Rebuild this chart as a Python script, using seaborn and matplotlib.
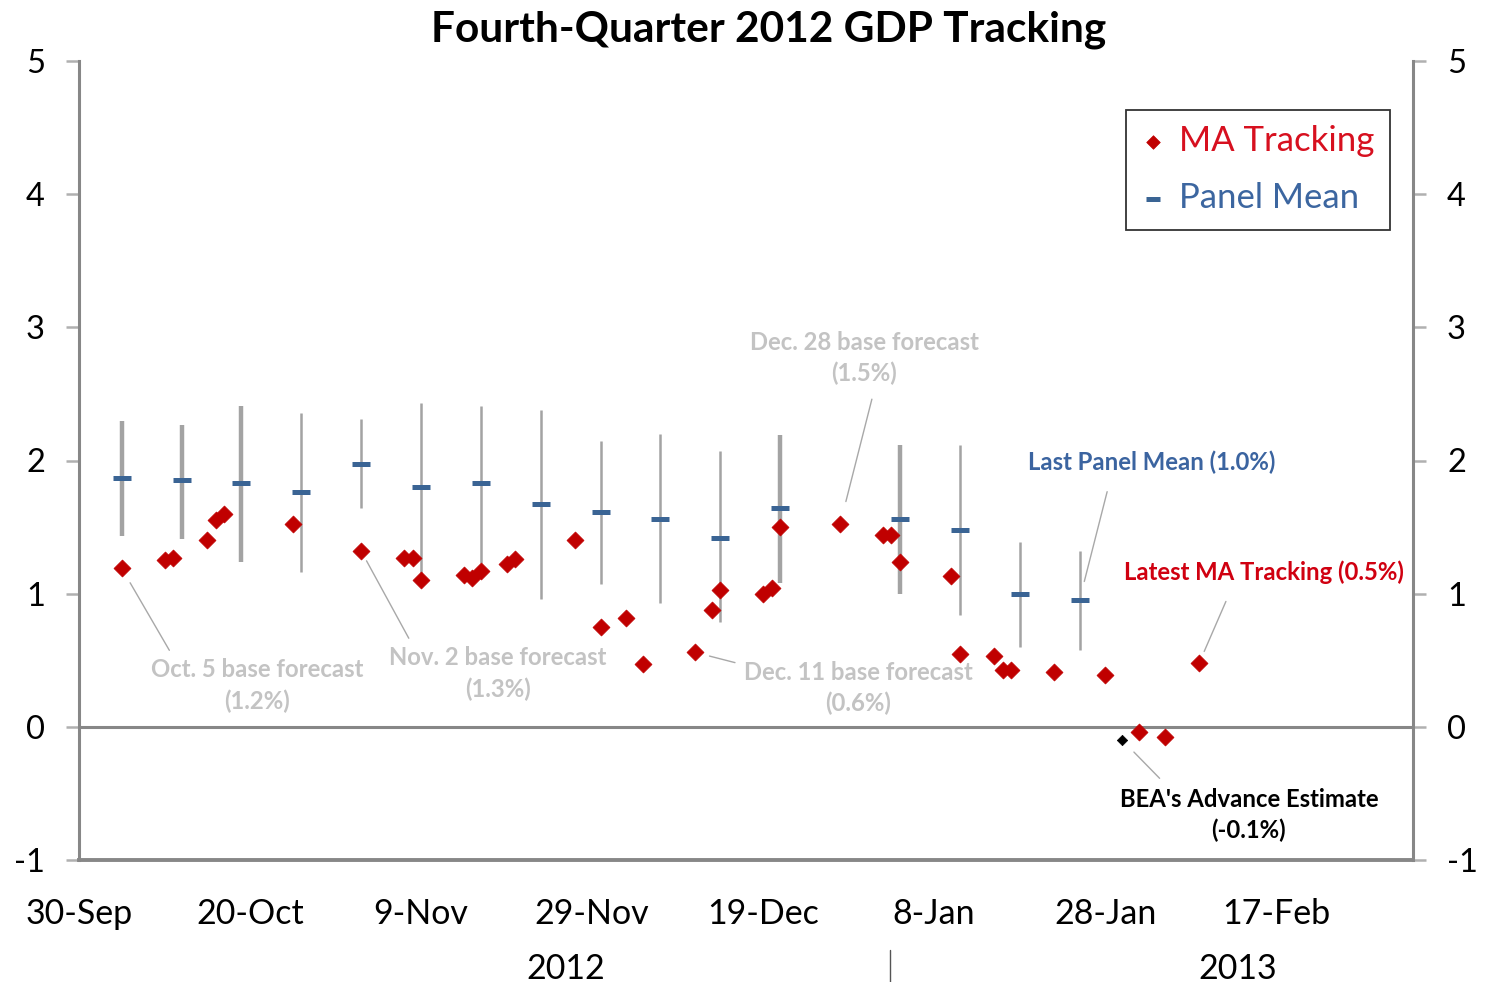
"""Fourth-Quarter 2012 GDP tracking chart."""

import matplotlib
matplotlib.use("Agg")  # Non-interactive backend

import matplotlib.pyplot as plt  # noqa: E402
import pandas as pd  # noqa: E402
import seaborn as sns  # noqa: E402

sns.set_style("white")
plt.rcParams["font.family"] = ["Lato", "DejaVu Sans"]
plt.rcParams["text.color"] = "black"

# Data
ma_dates = [
    "2012-10-05", "2012-10-10", "2012-10-11", "2012-10-15", "2012-10-16", "2012-10-17",
    "2012-10-25", "2012-11-02", "2012-11-07", "2012-11-08", "2012-11-09", "2012-11-14",
    "2012-11-15", "2012-11-16", "2012-11-19", "2012-11-20", "2012-11-27", "2012-11-30",
    "2012-12-03", "2012-12-05", "2012-12-11", "2012-12-13", "2012-12-14", "2012-12-19",
    "2012-12-20", "2012-12-21", "2012-12-28", "2013-01-02", "2013-01-03", "2013-01-04",
    "2013-01-10", "2013-01-11", "2013-01-15", "2013-01-16", "2013-01-17", "2013-01-22",
    "2013-01-28", "2013-02-01", "2013-02-04", "2013-02-08",
]
ma_values = [
    1.19, 1.25, 1.27, 1.40, 1.55, 1.60,
    1.52, 1.32, 1.27, 1.27, 1.10, 1.14,
    1.12, 1.17, 1.22, 1.26, 1.40, 0.75,
    0.82, 0.47, 0.56, 0.88, 1.03, 1.00,
    1.04, 1.50, 1.52, 1.44, 1.44, 1.24,
    1.13, 0.55, 0.53, 0.43, 0.43, 0.41,
    0.39, -0.04, -0.08, 0.48,
]

panel_dates = [
    "2012-10-05", "2012-10-12", "2012-10-19", "2012-10-26", "2012-11-02", "2012-11-09",
    "2012-11-16", "2012-11-23", "2012-11-30", "2012-12-07", "2012-12-14", "2012-12-21",
    "2013-01-04", "2013-01-11", "2013-01-18", "2013-01-25",
]
panel_mean = [1.87, 1.85, 1.83, 1.76, 1.97, 1.80, 1.83, 1.67, 1.61, 1.56, 1.42, 1.64,
              1.56, 1.48, 1.00, 0.95]
panel_low = [1.43, 1.41, 1.24, 1.16, 1.64, 1.10, 1.23, 0.96, 1.07, 0.93, 0.79, 1.08,
             1.00, 0.84, 0.60, 0.58]
panel_high = [2.30, 2.27, 2.41, 2.36, 2.31, 2.43, 2.41, 2.38, 2.15, 2.20, 2.07, 2.19,
              2.12, 2.12, 1.39, 1.32]

bea_date = "2013-01-30"
bea_value = -0.1

tick_dates = ["2012-09-30", "2012-10-20", "2012-11-09", "2012-11-29",
              "2012-12-19", "2013-01-08", "2013-01-28", "2013-02-17"]
tick_labels = ["30-Sep", "20-Oct", "9-Nov", "29-Nov", "19-Dec", "8-Jan", "28-Jan", "17-Feb"]

ma = pd.DataFrame({"date": pd.to_datetime(ma_dates), "value": ma_values})
panel = pd.DataFrame({"date": pd.to_datetime(panel_dates), "mean": panel_mean,
                      "low": panel_low, "high": panel_high})
# whiskers drawn heavier in the source image
whisker_lw = [3.2, 3.2, 3.2, 1.8, 1.8, 1.8, 1.8, 1.8, 1.8, 1.8, 1.8, 3.2, 3.2, 1.8, 1.8, 1.8]

RED = "#c00000"
BLUE = "#3a6494"
GRAY = "#878787"
WHISK = "#a3a3a3"
NOTE = "#c3c3c3"

fig = plt.figure(figsize=(14.85, 9.82), dpi=100)
ax = fig.add_axes([79 / 1485, 1 - 860 / 982, 1334 / 1485, 799 / 982])

ax.vlines(panel["date"], panel["low"], panel["high"], colors=WHISK, linewidths=whisker_lw, zorder=2)
sns.scatterplot(data=ma, x="date", y="value", marker="D", s=75, color=RED,
                edgecolor=RED, linewidth=0.5, label="MA Tracking", zorder=4, ax=ax)
sns.scatterplot(data=panel, x="date", y="mean", marker="_", s=170, color=BLUE,
                linewidth=3.6, label="Panel Mean", zorder=3, ax=ax)
sns.scatterplot(x=pd.to_datetime([bea_date]), y=[bea_value], marker="D", s=28, color="black",
                edgecolor="black", linewidth=0.5, zorder=5, ax=ax, legend=False)

ax.axhline(0, color=GRAY, lw=2.2, zorder=1)

ax.set_xlim(pd.Timestamp("2012-09-30"), pd.Timestamp("2013-03-05"))
ax.set_ylim(-1, 5)
ax.set_xticks(pd.to_datetime(tick_dates))
ax.set_xticklabels(tick_labels)
ax.set_yticks(range(-1, 6))
ax.set_yticklabels([str(v) for v in range(-1, 6)])
ax.set_xlabel("")
ax.set_ylabel("")

for side in ["left", "right", "bottom"]:
    ax.spines[side].set_color(GRAY)
    ax.spines[side].set_linewidth(2.2)
ax.spines["bottom"].set_linewidth(2.8)
ax.spines["top"].set_visible(False)

ax.tick_params(axis="y", which="both", left=True, right=True, labelleft=True, labelright=True,
               direction="out", length=9.5, width=1.8, color="#b0b0b0", labelcolor="black",
               labelsize=23.5, pad=15)
ax.tick_params(axis="x", direction="out", length=9, width=1, color="#b0b0b0",
               labelcolor="black", labelsize=24.5, pad=18)

# Legend
leg = ax.legend(loc="upper right", bbox_to_anchor=(0.983, 0.939), borderaxespad=0,
                fontsize=25, markerscale=0.8, handletextpad=0.4, handlelength=0.7,
                labelspacing=0.72, borderpad=0.45, fancybox=False, frameon=True)
leg.get_frame().set_edgecolor("black")
leg.get_frame().set_linewidth(1.3)
leg.get_texts()[0].set_color("#d7101f")
leg.get_texts()[1].set_color("#3c66a0")


def day(d, offset=0.0):
    return pd.Timestamp(d) + pd.Timedelta(days=offset)


notes = [
    # text, point, text center, color, relpos, shrinkA, shrinkB
    ("Oct. 5 base forecast\n(1.2%)", (day("2012-10-05"), 1.19), (day("2012-10-20", 0.8), 0.31),
     NOTE, (0.11, 1.0), 4, 12),
    ("Nov. 2 base forecast\n(1.3%)", (day("2012-11-02"), 1.32), (day("2012-11-18"), 0.40),
     NOTE, (0.11, 1.0), 4, 8),
    ("Dec. 11 base forecast\n(0.6%)", (day("2012-12-11"), 0.56), (day("2012-12-30", 0.1), 0.29),
     NOTE, (0.0, 0.93), 4, 11),
    ("Dec. 28 base forecast\n(1.5%)", (day("2012-12-28"), 1.52), (day("2012-12-30", 0.8), 2.77),
     NOTE, (0.55, 0.0), 8, 17),
    ("Last Panel Mean (1.0%)", (day("2013-01-25"), 0.95), (day("2013-02-02", 0.4), 1.99),
     "#3b64a0", (0.34, 0.0), 11, 14),
    ("Latest MA Tracking (0.5%)", (day("2013-02-08"), 0.48), (day("2013-02-15", 0.6), 1.16),
     "#d00010", (0.39, 0.0), 11, 9),
    ("BEA's Advance Estimate\n(-0.1%)", (day(bea_date), bea_value), (day("2013-02-13", 0.8), -0.66),
     "black", (0.19, 1.0), 6, 12),
]
for text, xy, xytext, color, relpos, sa, sb in notes:
    ax.annotate(text, xy=xy, xytext=xytext, ha="center", va="center", fontsize=17.2,
                fontweight="bold", color=color, linespacing=1.4,
                arrowprops=dict(arrowstyle="-", color="#a8a8a8", lw=1.0, relpos=relpos,
                                shrinkA=sa, shrinkB=sb), zorder=6)

# Year labels under the date axis
ax.text((566 - 79) / 1334, -0.136, "2012", transform=ax.transAxes, ha="center", va="center",
        fontsize=24.5)
ax.text((1238 - 79) / 1334, -0.136, "2013", transform=ax.transAxes, ha="center", va="center",
        fontsize=24.5)
ax.plot([(890 - 79) / 1334] * 2, [-0.113, -0.153], transform=ax.transAxes, color="#555555",
        lw=1, clip_on=False)

fig.text(769 / 1485, 1 - 30 / 982, "Fourth-Quarter 2012 GDP Tracking", ha="center", va="center",
         fontsize=30.5, fontweight="bold", color="black")

plt.savefig("out.png", dpi=100)
plt.close()
print("saved out.png")
